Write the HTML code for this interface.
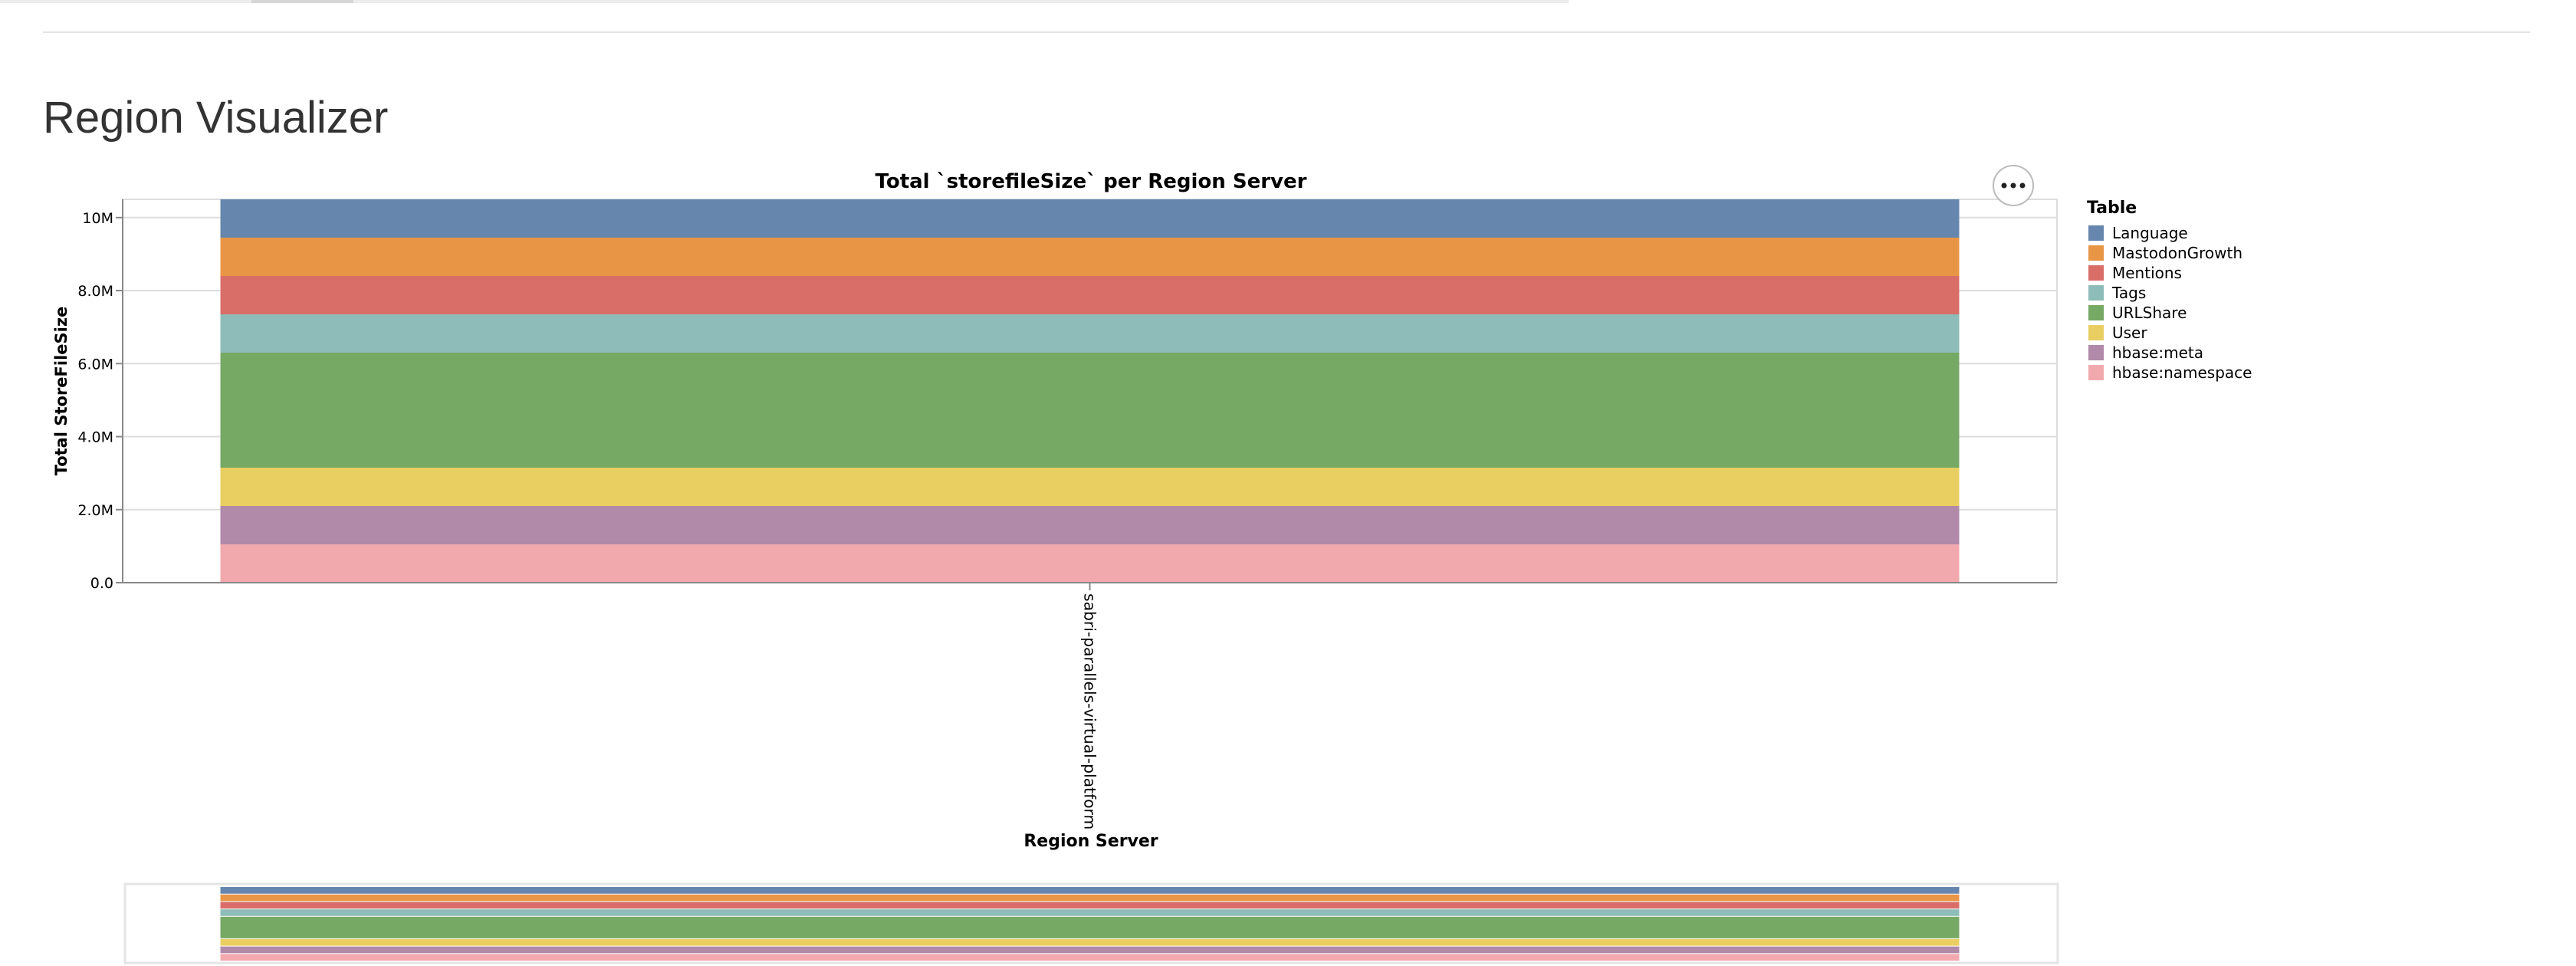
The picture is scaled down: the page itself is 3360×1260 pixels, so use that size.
<!DOCTYPE html>
<html><head><meta charset="utf-8"><style>
html,body{margin:0;padding:0;background:#fff;width:3360px;height:1260px;overflow:hidden;font-family:"Liberation Sans","DejaVu Sans",sans-serif}
</style></head><body>
<svg id="svg" width="3360" height="1260" xmlns="http://www.w3.org/2000/svg">
<rect x="0" y="0" width="2046" height="4" fill="#ececec"/>
<rect x="328" y="0" width="133" height="4" fill="#d6d6d6"/>
<rect x="56" y="41" width="3244" height="2" fill="#e3e3e3"/>
<text x="56" y="173" font-size="58" fill="#333">Region Visualizer</text>
<text x="1423" y="245" font-size="26" font-weight="bold" font-family="DejaVu Sans, sans-serif" text-anchor="middle" fill="#000">Total `storefileSize` per Region Server</text>
<g id="main" font-family="DejaVu Sans, sans-serif"></g>
<g id="overview"></g>
<g id="legend" font-family="DejaVu Sans, sans-serif"></g>
<g>
<circle cx="2626" cy="242" r="26" fill="#fff" stroke="#bbb" stroke-width="2"/>
<circle cx="2614" cy="242" r="3.5" fill="#222"/><circle cx="2626" cy="242" r="3.5" fill="#222"/><circle cx="2638" cy="242" r="3.5" fill="#222"/>
</g>
</svg>
<script>
const categories = ["sabri-parallels-virtual-platform"];
const tables = ["Language","MastodonGrowth","Mentions","Tags","URLShare","User","hbase:meta","hbase:namespace"];
const colors = ["#6686ae","#e99546","#d96e69","#8ebcb9","#76a964","#e9cf62","#b189a9","#f2a9ad"];
const sizes = [1.05e6,1.05e6,1.05e6,1.05e6,3.15e6,1.05e6,1.05e6,1.05e6];
const yTicks = [0,2e6,4e6,6e6,8e6,10e6];
const yTickLabels = ["0.0","2.0M","4.0M","6.0M","8.0M","10M"];

const NS="http://www.w3.org/2000/svg";
function mk(parent,tag,attrs){const e=document.createElementNS(NS,tag);for(const k in attrs)e.setAttribute(k,attrs[k]);parent.appendChild(e);return e;}
const total = sizes.reduce((a,b)=>a+b,0);
const yMax = Math.max(10.5e6,total);
const X0=160,X1=2683,Y0=760,Y1=260;
const y = v => Y0-(v/yMax)*(Y0-Y1);
const band = (X1-X0)/categories.length;
const xC = i => X0+band*(i+0.5);
const barW = 2557-289;
const main=document.getElementById('main');
let r=mk(main,'rect',{x:X0,y:Y1,width:X1-X0,height:Y0-Y1,fill:'none',stroke:'#ddd','stroke-width':2});


yTicks.forEach((t,i)=>{
  let g=mk(main,'line',{x1:X0,x2:X1,y1:y(t),y2:y(t),stroke:'#ddd','stroke-width':2});
  
  
  let tk=mk(main,'line',{x1:X0-9,x2:X0,y1:y(t),y2:y(t),stroke:'#888','stroke-width':2});
  
  
  let tx=mk(main,'text',{x:X0-12,y:y(t)+7,'font-size':19,'text-anchor':'end',fill:'#000'});
  tx.textContent=yTickLabels[i];
  
  
});
categories.forEach((c,ci)=>{
  let base=0;
  for(let i=tables.length-1;i>=0;i--){
    const v=sizes[i];
    let b=mk(main,'rect',{x:xC(ci)-barW/2,y:y(base+v),width:barW,height:y(base)-y(base+v),fill:colors[i]});
    
    
    base+=v;
  }
  let tk=mk(main,'line',{x1:xC(ci),x2:xC(ci),y1:Y0,y2:Y0+10,stroke:'#888','stroke-width':2});
  
  
  let tx=mk(main,'text',{x:0,y:0,'font-size':20.3,fill:'#000',transform:`translate(${xC(ci)-7},${Y0+14}) rotate(90)`});
  tx.textContent=c;
  
  
});
let ax=mk(main,'line',{x1:X0,x2:X0,y1:Y1,y2:Y0,stroke:'#888','stroke-width':2});


let bx=mk(main,'line',{x1:X0,x2:X1,y1:Y0,y2:Y0,stroke:'#888','stroke-width':2});


let yt=mk(main,'text',{x:0,y:0,'font-size':21,'font-weight':'bold','text-anchor':'middle',fill:'#000',transform:'translate(87,510) rotate(-90)'});
yt.textContent='Total StoreFileSize';


let xt=mk(main,'text',{x:1423,y:1104,'font-size':22,'font-weight':'bold','text-anchor':'middle',fill:'#000'});
xt.textContent='Region Server';



const ov=document.getElementById('overview');
const OY0=1254,OY1=1157;
const oy=v=>OY0-(v/yMax)*(OY0-OY1);
let of=mk(ov,'rect',{x:163,y:1153,width:2521,height:103,fill:'none',stroke:'#e4e4e4','stroke-width':3});


categories.forEach((c,ci)=>{
  let base=0;
  for(let i=tables.length-1;i>=0;i--){
    const v=sizes[i];
    let b=mk(ov,'rect',{x:xC(ci)-barW/2,y:oy(base+v),width:barW,height:oy(base)-oy(base+v)-1,fill:colors[i]});
    
    
    base+=v;
  }
});

const lg=document.getElementById('legend');
let lt=mk(lg,'text',{x:2722,y:278,'font-size':22,'font-weight':'bold',fill:'#000'});
lt.textContent='Table';


tables.forEach((t,i)=>{
  let s=mk(lg,'rect',{x:2724,y:294+i*26,width:20,height:20,fill:colors[i]});
  
  
  let tx=mk(lg,'text',{x:2755,y:311+i*26,'font-size':20,fill:'#000'});
  tx.textContent=t;
  
  
});
</script>
</body></html>
